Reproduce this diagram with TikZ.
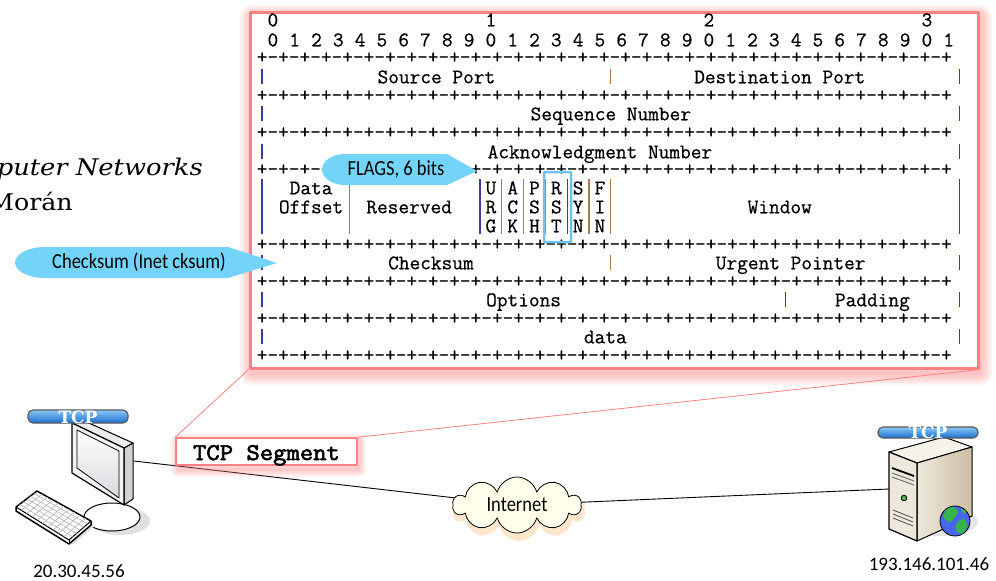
\documentclass[tikz,border=0pt]{standalone}
\usepackage{fontspec}
\usetikzlibrary{shapes.symbols}

\newfontfamily\rfcfont[FakeBold=0.6]{Latin Modern Mono}
\newfontfamily\segfont[FakeBold=2.5]{Latin Modern Mono}
\newfontfamily\callfont{Carlito}
\newfontfamily\bookfont{DejaVu Serif}

\definecolor{framered}{HTML}{FF8080}
\definecolor{callblue}{HTML}{74D3F8}
\definecolor{rstblue}{HTML}{6EC3EE}
\definecolor{pipeblue}{HTML}{3A3AA8}
\definecolor{pipebrown}{HTML}{B07A50}
\definecolor{cloudfill}{HTML}{FFFFEC}
\definecolor{badgeblue}{HTML}{1870D0}
\definecolor{badgelight}{HTML}{8CC8F6}
\definecolor{srvfront}{HTML}{EDE8DC}
\definecolor{srvtop}{HTML}{F5F2EA}
\definecolor{srvside}{HTML}{CDBFA4}
\definecolor{globeblue}{HTML}{4A66EE}
\definecolor{globegreen}{HTML}{36B44A}

% one +-+-...-+ line of the header diagram (32 bits)
\newcommand\rulerpart{+-+-+-+-+-+-+-+-}
\newcommand\rulerline{\rulerpart\rulerpart\rulerpart\rulerpart+}

\begin{document}
\begin{tikzpicture}[x=1pt,y=-1pt,line join=round,
  declare function={cx(\c)=262+10.9*\c;},
  rfc/.style={font=\rfcfont\fontsize{20.76}{20.76}\selectfont,inner sep=0pt,anchor=base},
  ruler/.style={rfc,anchor=base west,text height=9pt,text depth=0pt},
  pipe/.style={line width=1.1pt},
  frame/.style={draw=framered,line width=3pt,fill=white,inner sep=0pt,
    minimum width=728pt,minimum height=356pt},
  seglabel/.style={draw=framered,line width=1.5pt,fill=white,inner sep=0pt,
    minimum width=181pt,minimum height=27pt,text height=17pt,text depth=0pt,
    font=\segfont\fontsize{24}{24}\selectfont},
  calltext/.style={font=\callfont\fontsize{21.5}{21.5}\selectfont,inner sep=0pt},
  iplabel/.style={font=\callfont\fontsize{19}{19}\selectfont,inner sep=0pt},
  booktext/.style={font=\bookfont\fontsize{23}{23}\selectfont,inner sep=0pt},
  badge/.style={draw=black!65,line width=1.2pt,rounded corners=5pt,
    top color=badgelight,bottom color=badgeblue},
  badgetext/.style={font=\bookfont\bfseries\fontsize{17}{17}\selectfont,
    text=white,inner sep=0pt},
  glow/.style={framered,opacity=0.1}]

\useasboundingbox (0,0) rectangle (996,581);
\clip (0,0) rectangle (996,581);

% course title, partly off the page
\node[booktext,anchor=base east] (course) at (203,175)
  {\scalebox{1.12}[1]{\itshape Computer Networks}};
\node[booktext,anchor=base east] (author) at (73,210) {\scalebox{1.1}[1]{Morán}};

% header box with its shadow
\foreach \w in {4,8,...,24}
  \draw[glow,line width=\w pt] (252,17) rectangle (980,373);
\node[frame] (hdr) at (614,190) {};

% bit numbers
\foreach \d/\c in {0/1,1/21,2/41,3/61}
  \node[rfc] (tens\d) at ({cx(\c)},26.3) {\d};
\foreach \i [evaluate=\i as \d using {int(mod(\i,10))}] in {0,...,31}
  \node[rfc] (bit\i) at ({cx(2*\i+1)},46.3) {\d};

% +-+-+ rulers
\foreach \yy [count=\r] in {57,95,132,169,244,281,318,355}
  \node[ruler] (ruler\r) at ({cx(-0.5)},{\yy+6.3}) {\rulerline};

% field names
\node[rfc] (srcport) at ({cx(16)},83.3) {Source Port};
\node[rfc] (dstport) at ({cx(47.5)},83.3) {Destination Port};
\node[rfc] (seqno)   at ({cx(32)},120.3) {Sequence Number};
\node[rfc] (ackno)   at ({cx(31)},158.3) {Acknowledgment Number};
\node[rfc] (data)    at ({cx(4.5)},194.3) {Data};
\node[rfc] (offset)  at ({cx(4.5)},213.3) {Offset};
\node[rfc] (resvd)   at ({cx(13.5)},213.3) {Reserved};
\node[rfc] (window)  at ({cx(47.5)},213.3) {Window};
\foreach \c/\a/\b/\e in {21/U/R/G,23/A/C/K,25/P/S/H,27/R/S/T,29/S/Y/N,31/F/I/N}{
  \node[rfc] (f\a\b\e-1) at ({cx(\c)},194.3) {\a};
  \node[rfc] (f\a\b\e-2) at ({cx(\c)},213.3) {\b};
  \node[rfc] (f\a\b\e-3) at ({cx(\c)},232.3) {\e};
}
\node[rfc] (cksum)   at ({cx(15.5)},269.3) {Checksum};
\node[rfc] (urgptr)  at ({cx(48.5)},269.3) {Urgent Pointer};
\node[rfc] (options) at ({cx(24)},306.3) {Options};
\node[rfc] (padding) at ({cx(56)},306.3) {Padding};
\node[rfc] (payload) at ({cx(31.5)},343.3) {data};

% field separators
\foreach \c/\yc/\pc in {0/77/pipeblue,32/77/pipebrown,64/77/pipeblue,
    0/114/pipeblue,64/114/pipeblue,0/152/pipeblue,64/152/pipeblue,
    0/263/pipeblue,32/263/pipebrown,64/263/pipeblue,
    0/300/pipeblue,48/300/pipeblue,64/300/pipeblue,
    0/337/pipeblue,64/337/pipeblue}
  \draw[pipe,\pc] ({cx(\c)},{\yc-8}) -- ({cx(\c)},{\yc+6.5});
\foreach \c/\pc in {0/pipeblue,8/pipebrown,20/pipeblue,22/pipebrown,24/pipebrown,
    26/pipebrown,28/pipeblue,30/pipebrown,32/pipebrown,64/pipeblue}
  \draw[pipe,\pc] ({cx(\c)},179) -- ({cx(\c)},234);

% RST highlight
\draw[rstblue,line width=2.5pt,rounded corners=1pt] (544,172) rectangle (571,242);

% callouts
\fill[callblue] (447,154) -- (477,171) -- (447,185) -- (345,185)
  arc[start angle=90,end angle=270,x radius=23,y radius=15.5] -- cycle;
\node[calltext] (flags) at (396,169) {\scalebox{0.86}[1]{FLAGS, 6 bits}};
\fill[callblue] (228,247) -- (277,263) -- (228,278) -- (45,278)
  arc[start angle=90,end angle=270,x radius=30,y radius=15.5] -- cycle;
\node[calltext] (cksnote) at (139,262) {\scalebox{0.86}[1]{Checksum (Inet cksum)}};

% client PC
\fill[black!12] (120,521) ellipse[x radius=30,y radius=14];
\draw[fill=white,line width=1pt] (112,517) ellipse[x radius=28,y radius=14];
\draw[fill=black!18,line width=1pt] (124,448) -- (133,443) -- (133,499) -- (124,505) -- cycle;
\draw[fill=black!8,line width=1pt] (72,423) -- (80,419) -- (133,443) -- (124,448) -- cycle;
\draw[fill=black!5,line width=1.2pt] (72,423) -- (124,448) -- (124,505) -- (72,473) -- cycle;
\draw[top color=white,bottom color=blue!15!black!15,line width=0.8pt]
  (77,430) -- (119,451) -- (119,498) -- (77,468) -- cycle;
\coordinate (pcport) at (134,461);
\fill[black!12] (20,512) -- (72,545) -- (95,526) -- (60,522) -- cycle;
\draw[fill=white,line width=1.5pt] (16,507) -- (37,491) -- (91,521) -- (91,525)
  -- (69,544) -- (16,511) -- cycle;
\draw[line width=1pt] (16,507) -- (69,540) -- (91,521);
\draw[line width=1pt] (69,540) -- (69,544);
\foreach \t in {0.17,0.34,...,0.86}
  \draw[black!30,line width=0.6pt] ({16+21*\t},{507-16*\t}) -- ({69+22*\t},{540-19*\t});
\foreach \s in {0.1,0.2,...,0.95}
  \draw[black!30,line width=0.6pt] ({16+53*\s},{507+33*\s}) -- ({37+54*\s},{491+30*\s});
\draw[badge] (28,410) rectangle (128,423);
\node[badgetext] (pctcp) at (78,417) {TCP};
\node[iplabel] (pcip) at (79,571) {20.30.45.56};

% server
\fill[black!10] (940,522) ellipse[x radius=38,y radius=14];
\draw[fill=srvtop,line width=1pt] (889,452) -- (944,437) -- (972,447) -- (917,463) -- cycle;
\draw[left color=srvfront,right color=srvside,line width=1pt]
  (917,463) -- (972,447) -- (972,516) -- (917,541) -- cycle;
\draw[fill=srvfront,line width=1.2pt] (889,452) -- (917,463) -- (917,541) -- (889,529) -- cycle;
\draw[line width=1.8pt] (892,468) -- (914,476);
\draw[black!55,line width=1pt] (892,473) -- (914,481);
\draw[black!55,line width=1pt] (892,477) -- (914,485);
\draw[fill=green!40!gray,line width=0.8pt] (904,498) circle[radius=2.8];
\foreach \v in {0,4,8}
  \draw[black!70,line width=0.8pt] (893,{510+\v}) -- (913,{518+\v});
\draw[fill=globeblue,line width=0.8pt] (955,521) circle[radius=15];
\fill[globegreen] plot[smooth cycle] coordinates {(945,511) (952,507) (958,511) (955,517) (950,522) (944,518)};
\fill[globegreen] plot[smooth cycle] coordinates {(957,523) (964,519) (967,526) (962,534) (956,530)};
\fill[globegreen] plot[smooth cycle] coordinates {(961,509) (966,511) (964,514)};
\coordinate (srvport) at (889,489);
\draw[badge] (878,427) rectangle (978,438);
\node[badgetext] (srvtcp) at (928,432) {TCP};
\node[iplabel] (srvip) at (929,564) {193.146.101.46};

% internet cloud and links
\node[cloud,cloud puffs=10,aspect=2.3,fill=orange!55,opacity=0.35,
  minimum width=132pt,minimum height=60pt] (inetglow) at (519,511) {};
\node[cloud,cloud puffs=10,aspect=2.3,draw,fill=cloudfill,line width=0.8pt,
  minimum width=128pt,minimum height=54pt,inner sep=0pt,calltext] (inet) at (517,505)
  {\scalebox{0.86}[1]{Internet}};
\draw[line width=0.9pt] (pcport) -- (inet);
\draw[line width=0.9pt] (srvport) -- (inet);

% segment label and zoom lines
\foreach \w in {3,6,...,15}
  \draw[glow,line width=\w pt] (178,441) rectangle (358,469);
\node[seglabel] (seg) at (266.5,451.5) {\scalebox{1.08}[1]{TCP Segment}};
\draw[framered,line width=0.8pt] (hdr.south west) -- (seg.north west);
\draw[framered,line width=0.8pt] (hdr.south east) -- (seg.north east);
\end{tikzpicture}
\end{document}
